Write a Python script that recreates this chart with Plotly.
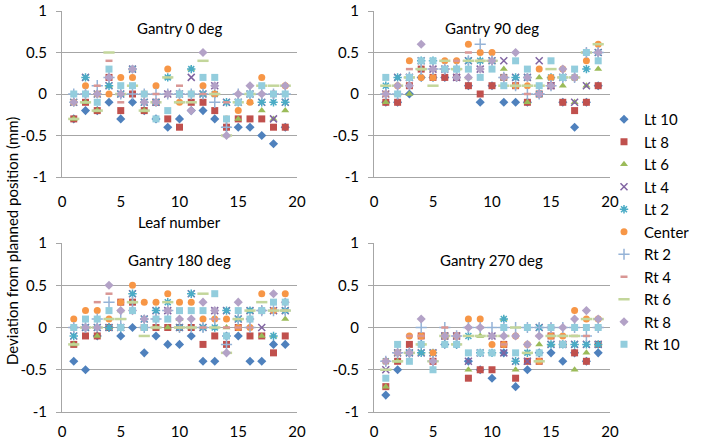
import plotly.graph_objects as go

leaf = [1, 2, 3, 4, 5, 6, 7, 8, 9, 10, 11, 12, 13, 14, 15, 16, 17, 18, 19]
series_names = ["Lt 10", "Lt 8", "Lt 6", "Lt 4", "Lt 2", "Center", "Rt 2", "Rt 4", "Rt 6", "Rt 8", "Rt 10"]
panel_titles = ["Gantry 0 deg", "Gantry 90 deg", "Gantry 180 deg", "Gantry 270 deg"]
x_ticks = [0, 5, 10, 15, 20]
y_ticks = [-1, -0.5, 0, 0.5, 1]
y_ticktext = ["-1", "-0.5", "0", "0.5", "1"]

# Gantry 0 deg
g0_lt10 = [-0.3, -0.2, -0.2, -0.1, -0.3, -0.1, -0.2, -0.3, -0.4, -0.3, -0.2, -0.2, -0.3, -0.4, -0.4, -0.4, -0.5, -0.6, -0.4]
g0_lt8 = [-0.3, -0.1, -0.2, 0.2, -0.2, 0, -0.2, -0.1, -0.3, -0.4, -0.1, -0.1, -0.2, -0.4, -0.3, -0.3, -0.3, -0.4, -0.4]
g0_lt6 = [-0.3, -0.1, -0.2, 0.1, 0, 0.3, -0.2, -0.1, 0.2, -0.1, 0.3, 0, 0, -0.5, -0.3, -0.1, -0.2, -0.3, -0.2]
g0_lt4 = [-0.1, 0.2, 0, 0.1, 0, 0.3, -0.1, -0.1, 0, 0, 0.2, 0, 0.1, -0.1, -0.1, 0, -0.1, -0.3, -0.1]
g0_lt2 = [-0.1, 0.2, 0, 0.1, 0, 0.3, -0.1, -0.1, 0.2, 0, 0.3, 0, 0, -0.1, -0.1, 0, -0.1, -0.1, -0.1]
g0_center = [-0.1, 0.1, 0, 0, 0.2, 0.2, 0, 0.1, 0.3, -0.1, 0, 0.1, 0, -0.3, -0.2, -0.1, 0.2, 0, 0.1]
g0_rt2 = [0, 0, 0.1, 0.2, 0, 0, 0, 0, 0, 0, 0, 0, -0.1, -0.4, 0, 0, 0, 0, 0]
g0_rt4 = [-0.1, 0, 0.1, 0.4, -0.1, 0.3, -0.1, 0, 0, 0.1, 0, 0, 0, -0.1, 0, 0, 0, 0, 0.1]
g0_rt6 = [-0.3, -0.1, -0.2, 0.5, 0, 0.1, -0.2, -0.1, 0.2, -0.1, -0.1, 0.4, 0, -0.5, -0.1, 0, 0.1, 0.1, 0.1]
g0_rt8 = [-0.1, 0, 0, 0.2, 0, 0.3, -0.1, -0.1, 0, 0, -0.2, 0.5, 0.1, -0.5, 0, 0.1, 0, 0, 0.1]
g0_rt10 = [0, 0, -0.1, 0.3, 0.1, 0.1, 0, -0.3, -0.2, 0, 0, 0.2, 0.2, -0.3, -0.1, 0, 0.1, 0, 0]

# Gantry 90 deg
g90_lt10 = [-0.1, -0.1, 0, 0.2, 0.2, 0.2, 0.2, 0.1, -0.1, 0.1, -0.1, -0.1, -0.1, 0, 0.1, -0.1, -0.4, -0.1, 0.1]
g90_lt8 = [-0.1, -0.1, 0.1, 0.3, 0.2, 0.2, 0.2, 0.1, 0, 0.1, 0.2, 0.1, -0.1, 0, 0.1, -0.1, -0.2, -0.1, 0.1]
g90_lt6 = [-0.1, 0, 0, 0.3, 0.3, 0.3, 0.3, 0.2, 0.4, 0.4, 0.3, 0.1, -0.1, 0.2, 0.2, 0.1, -0.1, 0.1, 0.3]
g90_lt4 = [0, 0.2, 0.2, 0.4, 0.3, 0.3, 0.2, 0.4, 0.3, 0.4, 0.4, 0.2, 0.2, 0.4, 0.1, 0.2, -0.1, 0.1, 0.5]
g90_lt2 = [0.1, 0.2, 0.2, 0.4, 0.4, 0.3, 0.3, 0.4, 0.4, 0.4, 0.2, 0.2, 0.2, 0, 0.2, 0.2, 0.2, 0.3, 0.5]
g90_center = [0, 0.1, 0.4, 0.2, 0.2, 0.4, 0.4, 0.6, 0.5, 0.5, 0.2, 0.1, 0.1, 0.3, 0.2, 0.3, 0.2, 0.4, 0.6]
g90_rt2 = [0, 0, 0.2, 0.3, 0.3, 0.3, 0.3, 0.4, 0.6, 0.4, 0.2, 0.1, 0, 0, 0.1, 0.2, 0.2, 0.5, 0.5]
g90_rt4 = [0, 0.1, 0.3, 0.3, 0.3, 0.3, 0.4, 0.5, 0.4, 0.4, 0.2, 0.1, 0, 0, 0.1, 0.2, 0.2, 0.5, 0.5]
g90_rt6 = [0.1, 0.1, 0.2, 0.3, 0.1, 0.4, 0.3, 0.4, 0.4, 0.4, 0.1, 0.1, 0.1, 0.1, 0.3, 0.2, 0.2, 0.5, 0.6]
g90_rt8 = [0, 0.1, 0.1, 0.6, 0.3, 0.3, 0.2, 0.2, 0.3, 0.4, 0.2, 0.5, 0.2, 0, 0.1, 0.3, 0.2, 0.5, 0.5]
g90_rt10 = [0.2, 0, 0.2, 0.4, 0.4, 0.3, 0.3, 0.3, 0.2, 0.3, 0.1, 0.4, 0.3, 0.1, 0.4, 0.2, 0.3, 0.5, 0.4]

# Gantry 180 deg
g180_lt10 = [-0.4, -0.5, -0.1, 0, -0.1, 0, -0.3, -0.1, -0.2, -0.2, -0.1, -0.4, -0.4, -0.1, -0.1, -0.4, -0.4, -0.2, -0.2]
g180_lt8 = [-0.2, -0.1, -0.1, 0, 0.3, 0.3, 0, 0, 0, 0, 0, -0.2, -0.1, -0.2, 0, -0.1, -0.1, -0.3, -0.1]
g180_lt6 = [-0.2, 0, -0.1, 0, 0.2, 0.3, 0, 0, 0, 0.1, 0, 0, 0, 0, 0.1, 0.2, -0.1, -0.1, 0.1]
g180_lt4 = [-0.1, 0, 0, 0, 0, 0.4, 0.1, 0.2, 0.2, 0, 0.4, 0, 0.2, 0.2, 0.1, 0.2, 0, 0.2, 0.2]
g180_lt2 = [-0.1, 0, 0, 0, 0, 0.4, 0.1, 0.2, 0.3, 0, 0.4, 0, 0, 0.2, 0.1, 0.2, 0.2, -0.1, 0.2]
g180_center = [0.1, 0.2, 0.2, 0.1, 0.3, 0.5, 0.3, 0.3, 0.4, 0.3, 0.3, 0.1, 0.1, 0.1, 0, 0, 0.4, 0.2, 0.4]
g180_rt2 = [0, 0, 0.1, 0.3, 0.1, 0.3, 0, 0.1, 0.2, 0, 0, 0, 0.1, -0.2, 0.1, 0, 0.2, 0.2, 0.2]
g180_rt4 = [0, 0, 0.3, 0.4, 0, 0.3, 0, 0, 0.2, 0, 0, 0, 0.1, 0, 0, 0, 0.2, 0.2, 0.2]
g180_rt6 = [-0.2, 0, 0, 0.1, 0.1, 0.3, -0.1, 0, 0.3, 0, 0, 0.4, 0, -0.3, 0.1, 0.2, 0.3, 0.2, 0.2]
g180_rt8 = [0, 0, 0, 0.5, 0.2, 0.2, 0.1, 0.1, 0.2, 0.1, 0.1, 0.3, 0.2, -0.3, 0.3, 0.1, 0.2, 0.4, 0.3]
g180_rt10 = [0, 0.1, 0.1, 0.2, 0, 0.2, 0, 0.1, 0.1, 0.2, 0.2, 0.2, 0.4, -0.1, 0.2, 0.1, 0.2, 0.3, 0.3]

# Gantry 270 deg
g270_lt10 = [-0.8, -0.5, -0.3, -0.2, -0.4, -0.2, -0.2, -0.4, -0.5, -0.6, -0.3, -0.7, -0.5, -0.3, -0.3, -0.4, -0.3, -0.4, -0.3]
g270_lt8 = [-0.7, -0.4, -0.2, -0.1, -0.4, -0.1, -0.1, -0.6, -0.5, -0.5, -0.2, -0.6, -0.4, -0.4, -0.1, -0.2, -0.3, -0.4, -0.2]
g270_lt6 = [-0.7, -0.4, -0.3, -0.3, -0.4, -0.1, -0.1, -0.5, -0.1, -0.3, 0.1, -0.5, -0.3, -0.2, -0.2, -0.2, -0.5, -0.3, -0.2]
g270_lt4 = [-0.5, -0.3, -0.3, -0.3, -0.3, -0.1, -0.1, -0.4, -0.3, -0.1, -0.3, -0.4, -0.4, 0, -0.2, -0.2, -0.2, -0.2, -0.2]
g270_lt2 = [-0.4, -0.3, -0.3, -0.3, -0.3, -0.1, -0.2, -0.1, -0.3, -0.3, 0.1, -0.4, -0.3, 0, -0.2, -0.2, -0.2, -0.2, -0.2]
g270_center = [-0.4, -0.3, -0.1, -0.1, -0.3, -0.1, -0.1, 0.1, 0.1, -0.2, -0.2, -0.1, -0.2, -0.4, -0.1, -0.1, 0.2, 0.1, 0.1]
g270_rt2 = [-0.4, -0.3, -0.3, 0, -0.4, 0, -0.1, 0, 0, 0, 0, 0, 0, 0, 0, 0, 0, -0.1, 0]
g270_rt4 = [-0.4, -0.3, -0.1, -0.1, -0.4, 0, -0.1, 0, 0, -0.1, -0.2, -0.1, -0.2, -0.1, -0.1, -0.1, -0.1, -0.1, 0]
g270_rt6 = [-0.5, -0.4, -0.3, -0.2, -0.4, -0.1, -0.2, -0.1, -0.1, -0.1, -0.1, 0, -0.3, -0.4, -0.1, -0.1, -0.1, 0.1, 0.1]
g270_rt8 = [-0.4, -0.3, -0.3, 0.1, -0.4, -0.1, -0.1, 0, 0, -0.1, -0.1, -0.1, -0.2, -0.1, 0, 0, 0.1, 0.2, 0.1]
g270_rt10 = [-0.6, -0.2, -0.4, -0.2, -0.5, -0.2, -0.2, -0.3, -0.3, -0.3, 0, -0.3, 0, -0.3, 0, -0.2, 0, 0, 0]

panels = [
    [g0_lt10, g0_lt8, g0_lt6, g0_lt4, g0_lt2, g0_center, g0_rt2, g0_rt4, g0_rt6, g0_rt8, g0_rt10],
    [g90_lt10, g90_lt8, g90_lt6, g90_lt4, g90_lt2, g90_center, g90_rt2, g90_rt4, g90_rt6, g90_rt8, g90_rt10],
    [g180_lt10, g180_lt8, g180_lt6, g180_lt4, g180_lt2, g180_center, g180_rt2, g180_rt4, g180_rt6, g180_rt8, g180_rt10],
    [g270_lt10, g270_lt8, g270_lt6, g270_lt4, g270_lt2, g270_center, g270_rt2, g270_rt4, g270_rt6, g270_rt8, g270_rt10],
]

colors = ["#4F81BD", "#C0504D", "#9BBB59", "#8064A2", "#4BACC6", "#F79646",
          "#95B3D7", "#D99694", "#C3D69B", "#B3A2C7", "#93CDDD"]
symbols = ["diamond", "square", "triangle-up", "x-thin-open", "asterisk-open", "circle",
           "cross-thin-open", "line-ew-open", "line-ew-open", "diamond", "square"]
sizes = [7, 7, 7, 7, 7, 7, 8, 5, 8, 7, 7]
line_w = [0, 0, 0, 1.5, 1.5, 0, 1.5, 2.5, 2.5, 0, 0]

W, H = 702, 444
FONT = "Lato, 'Open Sans', sans-serif"
GRID = "#A6A6A6"

x_domains = [[62 / W, 297 / W], [374 / W, 610 / W]]
y_domains = [[1 - 412 / H, 1 - 243 / H], [1 - 177 / H, 1 - 11 / H]]
pos = [(0, 1), (1, 1), (0, 0), (1, 0)]

fig = go.Figure()
for p, data in enumerate(panels):
    xa = "x" if p == 0 else f"x{p + 1}"
    ya = "y" if p == 0 else f"y{p + 1}"
    for s, name in enumerate(series_names):
        fig.add_trace(go.Scatter(
            x=leaf, y=data[s], mode="markers", name=name,
            xaxis=xa, yaxis=ya, showlegend=(p == 0), legendgroup=name,
            marker=dict(symbol=symbols[s], size=sizes[s], color=colors[s],
                        line=dict(width=line_w[s], color=colors[s])),
        ))

layout = dict(
    template="none",
    width=W, height=H, margin=dict(l=0, r=0, t=0, b=0, autoexpand=False),
    paper_bgcolor="white", plot_bgcolor="white",
    font=dict(family=FONT, size=15, color="#000000"),
    showlegend=True,
    legend=dict(x=604 / W, y=1 - 103 / H, xanchor="left", yanchor="top",
                font=dict(family=FONT, size=15, color="#000000"),
                bgcolor="rgba(0,0,0,0)", traceorder="normal", tracegroupgap=0,
                itemwidth=30),
    annotations=[],
)

for p in range(4):
    cx, cy = pos[p]
    sfx = "" if p == 0 else str(p + 1)
    layout["xaxis" + sfx] = dict(
        domain=x_domains[cx], anchor="y" + sfx, range=[0, 20], automargin=False,
        tickvals=x_ticks, showgrid=False, zeroline=False,
        showline=True, linecolor=GRID, linewidth=1, ticks="",
        ticklabelstandoff=(11 if cy == 1 else 6), ticklabeloverflow="allow",
        tickfont=dict(size=15, family=FONT, color="#000"),
    )
    layout["yaxis" + sfx] = dict(
        domain=y_domains[cy], anchor="x" + sfx, range=[-1, 1], automargin=False,
        tickvals=y_ticks, ticktext=y_ticktext, showgrid=True, gridcolor=GRID,
        gridwidth=1, zeroline=False, showline=True, linecolor=GRID, linewidth=1,
        ticks="outside", ticklen=5, tickcolor=GRID, ticklabelstandoff=6,
        ticklabeloverflow="allow",
        tickfont=dict(size=15, family=FONT, color="#000"),
    )
    # horizontal axis crossing at zero with tick marks
    osfx = str(p + 5)
    layout["xaxis" + osfx] = dict(
        domain=x_domains[cx], overlaying="x" + sfx, anchor="free",
        position=(y_domains[cy][0] + y_domains[cy][1]) / 2, automargin=False,
        range=[0, 20], tickvals=x_ticks, showgrid=False, zeroline=False,
        showline=True, linecolor=GRID, linewidth=1, ticks="outside",
        ticklen=5, tickcolor=GRID, showticklabels=False, side="bottom",
    )
    layout["annotations"].append(dict(
        text=panel_titles[p], xref=f"x{sfx} domain", yref=f"y{sfx} domain",
        x=0.5, y=1, xanchor="center", yanchor="top", yshift=-6, showarrow=False,
        font=dict(size=15, family=FONT, color="#000"),
    ))

layout["annotations"].append(dict(
    text="Leaf number", xref="x domain", yref="paper", x=0.5, y=1 - 222 / H,
    xanchor="center", yanchor="middle", showarrow=False,
    font=dict(size=15, family=FONT, color="#000"),
))
layout["annotations"].append(dict(
    text="Deviation from planned position (mm)", xref="paper", yref="paper",
    x=12 / W, y=1 - 241 / H, xanchor="center", yanchor="middle", textangle=-90,
    showarrow=False, font=dict(size=15, family=FONT, color="#000"),
))

fig.update_layout(**layout)
fig.write_html(
    "out.html",
    config={"displayModeBar": False},
    post_script="document.body.style.margin='0px';document.body.style.overflow='hidden';",
)
